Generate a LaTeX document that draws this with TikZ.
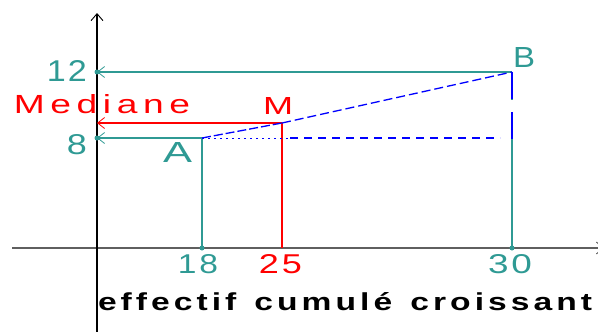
\documentclass[tikz,border=0pt]{standalone}
\usepackage{fontspec}
\setmainfont{Liberation Sans}
\usepackage{graphicx}
\usetikzlibrary{arrows.meta}
\definecolor{tealc}{RGB}{47,154,148}
\definecolor{redc}{RGB}{255,0,0}
\definecolor{bluec}{RGB}{0,0,255}
\definecolor{axisgray}{RGB}{95,95,95}
\newcommand\fitbox[3]{\resizebox{#1pt}{#2pt}{#3}}
\newlength\lsgap
\newcommand\lsk{\kern\lsgap}
\newcommand\wsp{\kern\lsgap\kern0.3em\kern\lsgap}
\begin{document}
\begin{tikzpicture}[x=1pt,y=-1pt,
  lbl/.style={inner sep=0pt, outer sep=0pt},
  tealline/.style={draw=tealc, line width=1.6pt},
  redline/.style={draw=redc, line width=1.4pt},
  blueline/.style={draw=bluec, line width=1.3pt},
  axistip/.style={-{Straight Barb[length=7pt,width=12pt,line width=0.9pt]}},
  tip/.style={-{Straight Barb[length=7pt,width=11pt,line width=0.8pt]}},
  dotc/.style={circle, fill=tealc, inner sep=0pt, minimum size=5pt}]
\useasboundingbox (0,0) rectangle (598,332);
% axes
\coordinate (yb) at (97,332);
\coordinate (yt) at (97,13);
\coordinate (xl) at (12,248);
\coordinate (xr) at (604,248);
\draw[axisgray, line width=1.6pt, axistip] (xl) -- (xr);
\draw[black, line width=1.6pt, axistip] (yb) -- (yt);
% points
\coordinate (A) at (202,138);
\coordinate (M) at (282,123);
\coordinate (B) at (512,72);
\coordinate (Y12) at (97,72);
\coordinate (Ymed) at (97,123);
\coordinate (Y8) at (97,138);
\coordinate (X18) at (202,248);
\coordinate (X25) at (282,248);
\coordinate (X30) at (512,248);
\coordinate (Dm) at (290,138);
\coordinate (H) at (500,138);
\coordinate (Bmid) at (512,140);
\coordinate (Bg1) at (512,100);
\coordinate (Bg2) at (512,113);
% horizontal arrows to the y axis
\draw[tealline, tip] (B) -- (Y12);
\draw[tealline, tip] (A) -- (Y8);
\draw[redline, tip] (M) -- (Ymed);
% verticals
\draw[tealline] (A) -- (X18);
\draw[redline] (M) -- (X25);
\draw[tealline] (B) -- (Bg1);
\draw[tealline] (Bg2) -- (X30);
% blue lines
\draw[blueline, dash pattern=on 9pt off 3pt] (A) -- (M);
\draw[blueline, dash pattern=on 9pt off 4pt] (M) -- (B);
\draw[bluec, line width=1pt, dash pattern=on 2pt off 4pt] (A) -- (Dm);
\draw[blueline, dash pattern=on 8pt off 6pt] (Dm) -- (H);
\draw[blueline, dash pattern=on 27pt off 13pt] (B) -- (Bmid);
% dots
\node[dotc] (d12) at (Y12) {};
\node[dotc] (d8) at (Y8) {};
\node[dotc] (d18) at (X18) {};
\node[dotc] (d30) at (X30) {};
% labels
\node[lbl, text=tealc] (t12) at (67,71) {\fitbox{40}{21}{\setlength\lsgap{0.06em}1\lsk 2}};
\node[lbl, text=redc] (tmed) at (102,104.5) {\fitbox{176}{19}{\setlength\lsgap{0.15em}M\lsk e\lsk d\lsk i\lsk a\lsk n\lsk e}};
\node[lbl, text=tealc] (t8) at (77,145) {\fitbox{20}{20}{8}};
\node[lbl, text=tealc] (tA) at (177.5,152) {\fitbox{29}{20}{A}};
\node[lbl, text=redc] (tM) at (278,105.5) {\fitbox{30}{17}{M}};
\node[lbl, text=tealc] (tB) at (524,57) {\fitbox{22}{20}{B}};
\node[lbl, text=tealc] (t18) at (198,264.5) {\fitbox{40}{19}{\setlength\lsgap{0.08em}1\lsk 8}};
\node[lbl, text=redc] (t25) at (280.5,264.5) {\fitbox{43}{19}{\setlength\lsgap{0.08em}2\lsk 5}};
\node[lbl, text=tealc] (t30) at (510,264.5) {\fitbox{44}{19}{\setlength\lsgap{0.08em}3\lsk 0}};
\node[lbl, anchor=base west, text=black] (tx) at (98,310) {\fitbox{494}{18}{\bfseries\setlength\lsgap{0.12em}e\lsk f\lsk f\lsk e\lsk c\lsk t\lsk i\lsk f\wsp c\lsk u\lsk m\lsk u\lsk l\lsk é\wsp c\lsk r\lsk o\lsk i\lsk s\lsk s\lsk a\lsk n\lsk t}};
\end{tikzpicture}
\end{document}
